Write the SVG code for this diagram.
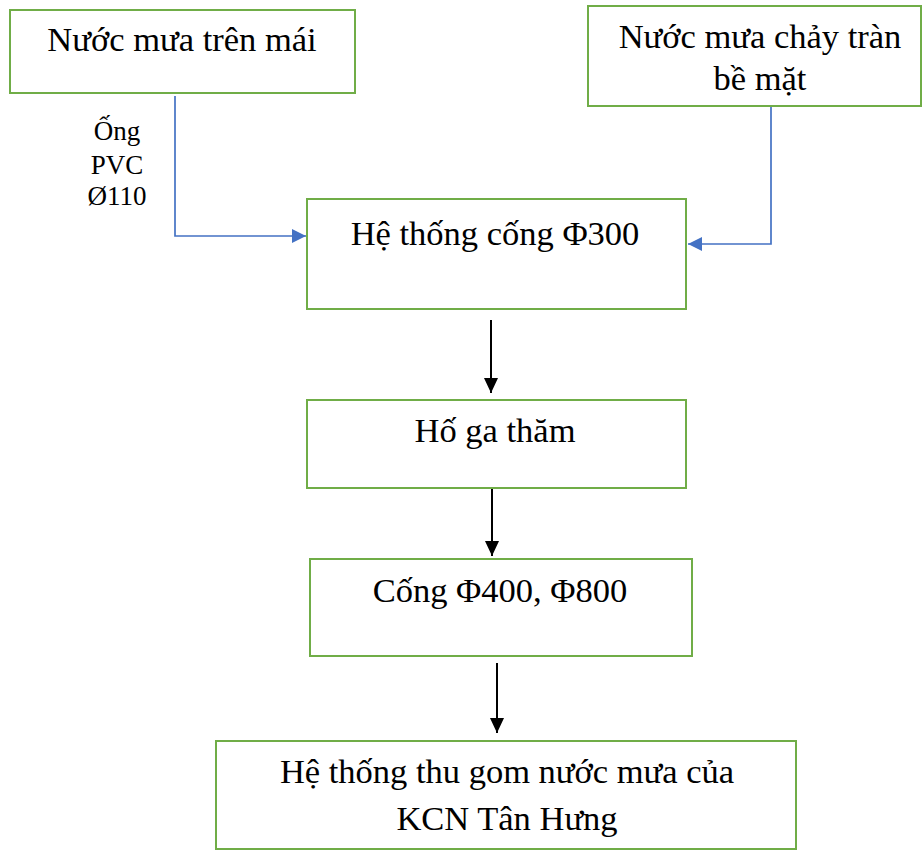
<svg xmlns="http://www.w3.org/2000/svg" width="923" height="852" viewBox="0 0 923 852">
  <style>
    .box { fill: #ffffff; stroke: #70AD47; stroke-width: 2; }
    .t { font-family: "Liberation Serif", "Times New Roman", serif; font-size: 34.5px; fill: #000000; text-anchor: middle; }
    .lbl { font-family: "Liberation Serif", "Times New Roman", serif; font-size: 27px; fill: #000000; text-anchor: middle; }
    .blue { fill: none; stroke: #4472C4; stroke-width: 1.7; }
    .black { fill: none; stroke: #000000; stroke-width: 2; }
  </style>
  <defs>
    <!-- arrowheads: tip sits at the end of the path -->
    <marker id="arrBlue" viewBox="0 0 14 14" refX="14" refY="7" markerWidth="14" markerHeight="14" markerUnits="userSpaceOnUse" orient="auto">
      <path d="M0,0 L14,7 L0,14 Z" fill="#4472C4"/>
    </marker>
    <marker id="arrBlack" viewBox="0 0 15 14" refX="15" refY="7" markerWidth="15" markerHeight="14" markerUnits="userSpaceOnUse" orient="auto">
      <path d="M0,0 L15,7 L0,14 Z" fill="#000000"/>
    </marker>
  </defs>

  <rect width="923" height="852" fill="#ffffff"/>

  <g id="connectors">
    <path class="blue" d="M175,96 V236 H306" marker-end="url(#arrBlue)"/>
    <path class="blue" d="M771,106 V244 H688" marker-end="url(#arrBlue)"/>
    <path class="black" d="M491,320 V393" marker-end="url(#arrBlack)"/>
    <path class="black" d="M492,488 V556" marker-end="url(#arrBlack)"/>
    <path class="black" d="M497,663 V733" marker-end="url(#arrBlack)"/>
  </g>

  <g id="label-pvc">
    <text class="lbl" x="117" y="140">Ống</text>
    <text class="lbl" x="117" y="174">PVC</text>
    <text class="lbl" x="117" y="205">Ø110</text>
  </g>

  <g id="node-roof">
    <rect class="box" x="10" y="10" width="345" height="83"/>
    <text class="t" x="182" y="51">Nước mưa trên mái</text>
  </g>

  <g id="node-surface">
    <rect class="box" x="588" y="6" width="333" height="100"/>
    <text class="t" x="760" y="48">Nước mưa chảy tràn</text>
    <text class="t" x="760" y="90">bề mặt</text>
  </g>

  <g id="node-sewer300">
    <rect class="box" x="307" y="199" width="379" height="110"/>
    <text class="t" x="495" y="245">Hệ thống cống Φ300</text>
  </g>

  <g id="node-manhole">
    <rect class="box" x="307" y="400" width="379" height="88"/>
    <text class="t" x="495" y="442">Hố ga thăm</text>
  </g>

  <g id="node-sewer400">
    <rect class="box" x="310" y="559" width="382" height="97"/>
    <text class="t" x="500" y="602">Cống Φ400, Φ800</text>
  </g>

  <g id="node-collection">
    <rect class="box" x="216" y="741" width="580" height="108"/>
    <text class="t" x="507" y="783">Hệ thống thu gom nước mưa của</text>
    <text class="t" x="507" y="830">KCN Tân Hưng</text>
  </g>
</svg>
